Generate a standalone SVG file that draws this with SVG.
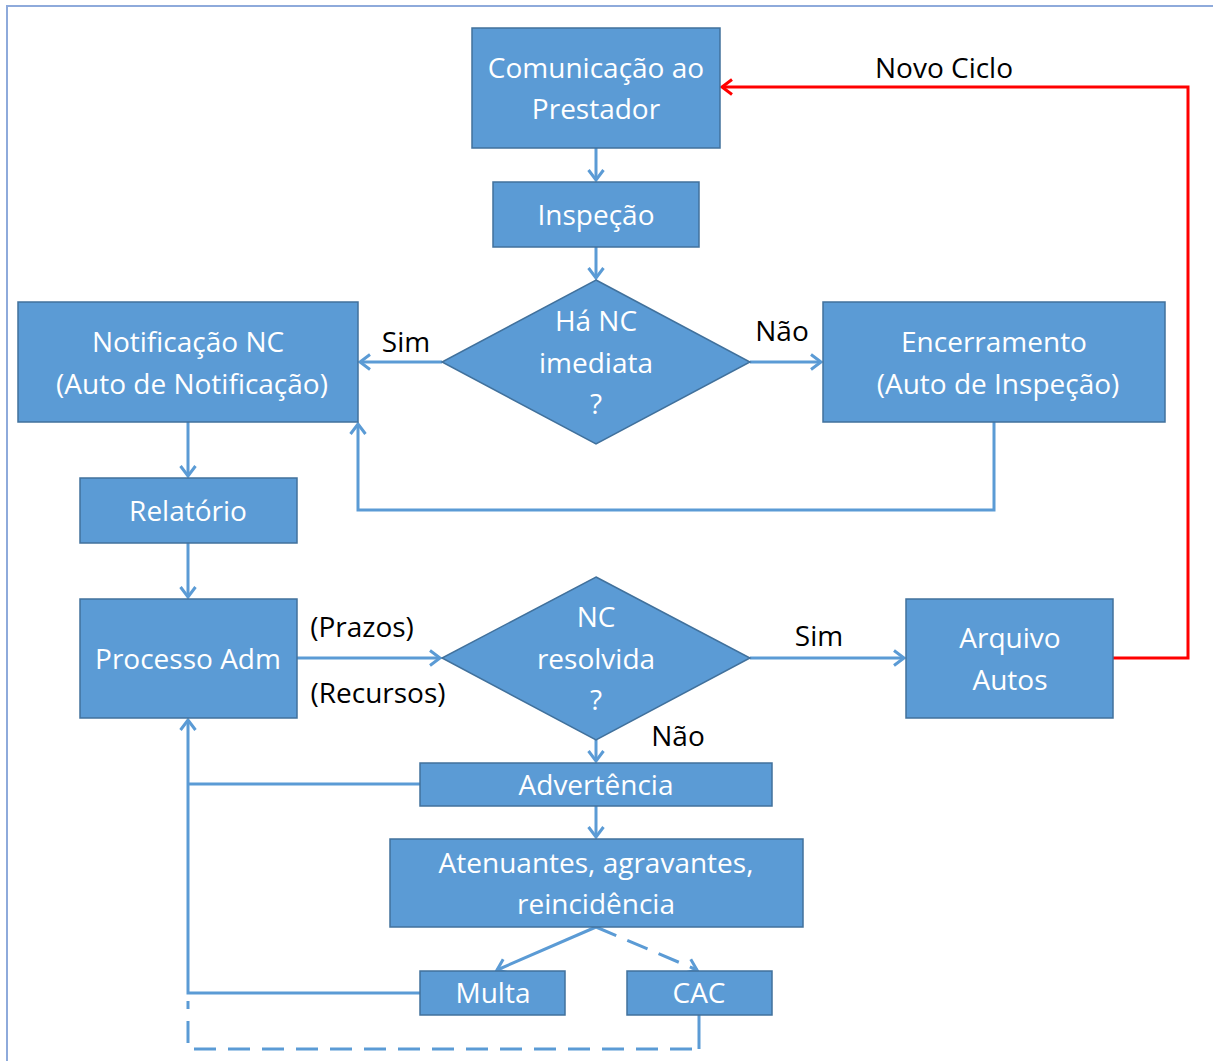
<svg xmlns="http://www.w3.org/2000/svg" width="1213" height="1061" viewBox="0 0 1213 1061">
<defs>
<marker id="ab" markerWidth="16" markerHeight="18" refX="12" refY="9" orient="auto" markerUnits="userSpaceOnUse">
<path d="M2,1.5 L12,9 L2,16.5" fill="none" stroke="#5B9BD5" stroke-width="3"/>
</marker>
<marker id="ar" markerWidth="16" markerHeight="18" refX="12" refY="9" orient="auto" markerUnits="userSpaceOnUse">
<path d="M2,1.5 L12,9 L2,16.5" fill="none" stroke="#FF0000" stroke-width="3"/>
</marker>
<style>
.n{fill:#5B9BD5;stroke:#41719C;stroke-width:1.5}
.t{fill:#FFFFFF;font-family:"Open Sans","Noto Sans",sans-serif;font-size:28px;text-anchor:middle}
.l{fill:#000000;font-family:"Open Sans","Noto Sans",sans-serif;font-size:28px;text-anchor:middle}
.c{fill:none;stroke:#5B9BD5;stroke-width:3}
.d{stroke-dasharray:22,12}
</style>
</defs>
<rect width="1213" height="1061" fill="#FFFFFF"/>
<path d="M7,1061 L7,6 L1213,6" fill="none" stroke="#8EAADB" stroke-width="2"/>
<g id="connectors">
<path class="c" d="M596,148 L596,180" marker-end="url(#ab)"/>
<path class="c" d="M596,247 L596,278" marker-end="url(#ab)"/>
<path class="c" d="M442,362 L360,362" marker-end="url(#ab)"/>
<path class="c" d="M750,362 L821,362" marker-end="url(#ab)"/>
<path class="c" d="M994,422 L994,510 L358,510 L358,424" marker-end="url(#ab)"/>
<path class="c" d="M188,422 L188,476" marker-end="url(#ab)"/>
<path class="c" d="M188,543 L188,597" marker-end="url(#ab)"/>
<path class="c" d="M297,658 L440,658" marker-end="url(#ab)"/>
<path class="c" d="M750,658 L904,658" marker-end="url(#ab)"/>
<path class="c" d="M596,740 L596,761" marker-end="url(#ab)"/>
<path class="c" d="M596,806 L596,837" marker-end="url(#ab)"/>
<path class="c" d="M596,927 L497,970" marker-end="url(#ab)"/>
<path class="c d" d="M596,927 L697,970" marker-end="url(#ab)"/>
<path class="c" d="M420,784 L188,784"/>
<path class="c" d="M420,993 L188,993 L188,720" marker-end="url(#ab)"/>
<path class="c" d="M699,1015 L699,1049"/>
<path class="c d" d="M692,1049 L188,1049 L188,1001"/>
<path d="M1113,658 L1188,658 L1188,87 L722,87" fill="none" stroke="#FF0000" stroke-width="3" marker-end="url(#ar)"/>
<text class="l" x="406" y="352">Sim</text>
<text class="l" x="782" y="341">Não</text>
<text class="l" x="362" y="637">(Prazos)</text>
<text class="l" x="378" y="703">(Recursos)</text>
<text class="l" x="819" y="646">Sim</text>
<text class="l" x="678" y="746">Não</text>
<text class="l" x="944" y="78">Novo Ciclo</text>
</g>
<g id="comunicacao"><rect class="n" x="472" y="28" width="248" height="120"/><text class="t" x="596" y="78">Comunicação ao</text><text class="t" x="596" y="119">Prestador</text></g>
<g id="inspecao"><rect class="n" x="493" y="182" width="206" height="65"/><text class="t" x="596" y="225">Inspeção</text></g>
<g id="ha-nc"><polygon class="n" points="596,280 750,362 596,444 442,362"/><text class="t" x="596" y="331">Há NC</text><text class="t" x="596" y="373">imediata</text><text class="t" x="596" y="414">?</text></g>
<g id="notificacao"><rect class="n" x="18" y="302" width="340" height="120"/><text class="t" x="188" y="352">Notificação NC</text><text class="t" x="192" y="394">(Auto de Notificação)</text></g>
<g id="encerramento"><rect class="n" x="823" y="302" width="342" height="120"/><text class="t" x="994" y="352">Encerramento</text><text class="t" x="998" y="394">(Auto de Inspeção)</text></g>
<g id="relatorio"><rect class="n" x="80" y="478" width="217" height="65"/><text class="t" x="188" y="521">Relatório</text></g>
<g id="processo"><rect class="n" x="80" y="599" width="217" height="119"/><text class="t" x="188" y="669">Processo Adm</text></g>
<g id="nc-resolvida"><polygon class="n" points="596,577 750,658 596,740 442,658"/><text class="t" x="596" y="627">NC</text><text class="t" x="596" y="669">resolvida</text><text class="t" x="596" y="710">?</text></g>
<g id="arquivo"><rect class="n" x="906" y="599" width="207" height="119"/><text class="t" x="1010" y="648">Arquivo</text><text class="t" x="1010" y="690">Autos</text></g>
<g id="advertencia"><rect class="n" x="420" y="763" width="352" height="43"/><text class="t" x="596" y="795">Advertência</text></g>
<g id="atenuantes"><rect class="n" x="390" y="839" width="413" height="88"/><text class="t" x="596" y="873">Atenuantes, agravantes,</text><text class="t" x="596" y="914">reincidência</text></g>
<g id="multa"><rect class="n" x="420" y="971" width="145" height="44"/><text class="t" x="493" y="1003">Multa</text></g>
<g id="cac"><rect class="n" x="627" y="971" width="145" height="44"/><text class="t" x="699" y="1003">CAC</text></g>
</svg>
